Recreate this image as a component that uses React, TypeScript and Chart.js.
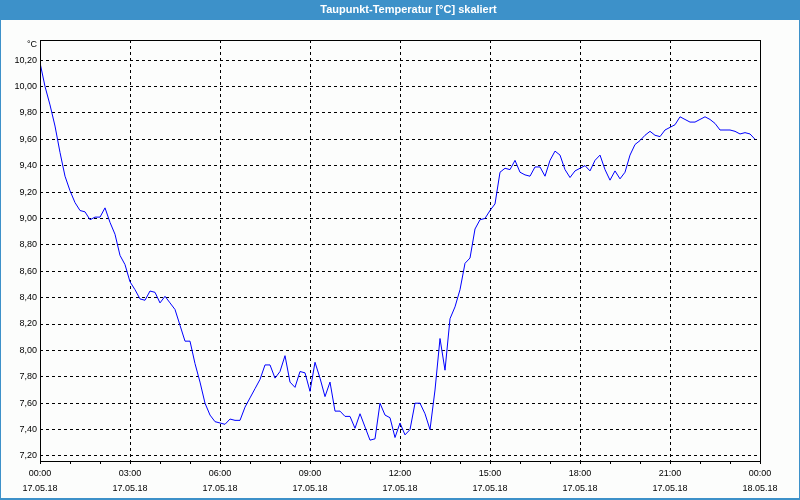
import React, { useEffect, useRef } from 'react';
import { Chart, registerables } from 'chart.js';

Chart.register(...registerables);

const TITLE = 'Taupunkt-Temperatur [°C] skaliert';
const UNIT = '°C';
const SAMPLE_STEP_MIN = 10;

// Dew point, one reading every 10 minutes from 17.05.18 00:00
const dewPoint = [
  10.18, 10.0, 9.86, 9.7, 9.5, 9.32, 9.21, 9.12, 9.06, 9.05,
  8.99, 9.01, 9.01, 9.08, 8.97, 8.88, 8.72, 8.65, 8.52, 8.46,
  8.39, 8.38, 8.45, 8.44, 8.36, 8.41, 8.36, 8.31, 8.19, 8.07,
  8.07, 7.9, 7.76, 7.6, 7.51, 7.46, 7.45, 7.44, 7.48, 7.47,
  7.47, 7.57, 7.64, 7.71, 7.78, 7.89, 7.89, 7.79, 7.84, 7.96,
  7.76, 7.72, 7.84, 7.83, 7.69, 7.91, 7.79, 7.65, 7.76, 7.54,
  7.54, 7.5, 7.5, 7.41, 7.52, 7.42, 7.32, 7.33, 7.6, 7.51,
  7.49, 7.34, 7.45, 7.36, 7.4, 7.6, 7.6, 7.52, 7.4, 7.7,
  8.09, 7.85, 8.24, 8.33, 8.46, 8.66, 8.7, 8.92, 8.99, 9.0,
  9.06, 9.11, 9.35, 9.38, 9.37, 9.44, 9.35, 9.33, 9.32, 9.39,
  9.39, 9.32, 9.44, 9.51, 9.48, 9.37, 9.31, 9.36, 9.38, 9.4,
  9.36, 9.44, 9.48, 9.37, 9.29, 9.36, 9.3, 9.35, 9.48, 9.56,
  9.59, 9.63, 9.66, 9.63, 9.62, 9.67, 9.69, 9.71, 9.77, 9.75,
  9.73, 9.73, 9.75, 9.77, 9.75, 9.72, 9.67, 9.67, 9.67, 9.66,
  9.64, 9.65, 9.64, 9.6,
];

const yTickValues = [7.2, 7.4, 7.6, 7.8, 8.0, 8.2, 8.4, 8.6, 8.8, 9.0, 9.2, 9.4, 9.6, 9.8, 10.0, 10.2];
const xMajorTimes = ['00:00', '03:00', '06:00', '09:00', '12:00', '15:00', '18:00', '21:00', '00:00'];
const xMajorDates = ['17.05.18', '17.05.18', '17.05.18', '17.05.18', '17.05.18', '17.05.18', '17.05.18', '17.05.18', '18.05.18'];

const X_MIN = 0;
const X_MAX = 1440;
const MAJOR_STEP = 180;
const MINOR_STEP = 60;
const Y_MIN = 7.162;
const Y_MAX = 10.352;

const BAND = '#3d91c9';
const FONT_FAMILY = '"Liberation Sans", Arial, sans-serif';
const FONT = { family: FONT_FAMILY, size: 9 };

const framePlugin = {
  id: 'frame',
  beforeDraw(chart: any) {
    const { ctx, width, height } = chart;
    ctx.save();
    ctx.fillStyle = '#fcfdfc';
    ctx.fillRect(0, 0, width, height);
    ctx.fillStyle = BAND;
    ctx.fillRect(0, 0, width, 20);
    ctx.fillRect(0, 0, 1, height);
    ctx.fillRect(width - 1, 0, 1, height);
    ctx.fillRect(0, height - 2, width, 2);
    ctx.fillStyle = '#ffffff';
    ctx.font = 'bold 11px ' + FONT_FAMILY;
    ctx.textAlign = 'center';
    ctx.textBaseline = 'middle';
    ctx.fillText(TITLE, 408.5, 10);
    ctx.restore();
  },
  afterDraw(chart: any) {
    const { ctx, chartArea: a } = chart;
    ctx.save();
    ctx.strokeStyle = '#000';
    ctx.lineWidth = 1;
    ctx.strokeRect(a.left + 0.5, a.top + 0.5, a.right - a.left, a.bottom - a.top);
    ctx.fillStyle = '#000';
    ctx.font = '9px ' + FONT_FAMILY;
    ctx.textAlign = 'right';
    ctx.textBaseline = 'middle';
    ctx.fillText(UNIT, a.left - 3, a.top + 5);
    ctx.restore();
  },
};

export default function App() {
  const canvasRef = useRef<HTMLCanvasElement | null>(null);

  useEffect(() => {
    if (!canvasRef.current) return;
    const minorTicks: number[] = [];
    for (let m = X_MIN; m <= X_MAX; m += MINOR_STEP) minorTicks.push(m);

    const chart = new Chart(canvasRef.current, {
      type: 'line',
      data: {
        datasets: [
          {
            label: TITLE,
            data: dewPoint.map((v, i) => ({ x: i * SAMPLE_STEP_MIN, y: v })),
            borderColor: '#0000ff',
            borderWidth: 1,
            pointRadius: 0,
            tension: 0,
            fill: false,
          },
        ],
      },
      options: {
        responsive: false,
        animation: false,
        events: [],
        layout: { padding: { left: 0, right: 40, top: 40, bottom: 0 } },
        plugins: {
          legend: { display: false },
          tooltip: { enabled: false },
          title: { display: false },
        },
        scales: {
          x: {
            type: 'linear',
            min: X_MIN,
            max: X_MAX,
            afterBuildTicks: (s: any) => {
              s.ticks = minorTicks.map((v) => ({ value: v }));
            },
            afterFit: (s: any) => {
              s.height = 39;
            },
            grid: {
              color: (c: any) => {
                const v = c.tick ? c.tick.value : -1;
                return v % MAJOR_STEP === 0 && v > X_MIN && v < X_MAX ? '#000' : 'rgba(0,0,0,0)';
              },
              tickColor: '#000',
              tickLength: 3,
              lineWidth: 1,
            },
            border: { display: false, dash: [3, 3] },
            ticks: {
              autoSkip: false,
              maxRotation: 0,
              minRotation: 0,
              padding: 2,
              color: '#000',
              font: { ...FONT, lineHeight: 15 / 9 },
              callback: (value: any) => {
                const v = Number(value);
                if (v % MAJOR_STEP !== 0) return '';
                const k = v / MAJOR_STEP;
                return [xMajorTimes[k], xMajorDates[k]];
              },
            },
          },
          y: {
            type: 'linear',
            min: Y_MIN,
            max: Y_MAX,
            afterBuildTicks: (s: any) => {
              s.ticks = yTickValues.map((v) => ({ value: v }));
            },
            afterFit: (s: any) => {
              s.width = 40;
            },
            grid: { color: '#000', drawTicks: false, lineWidth: 1 },
            border: { display: false, dash: [3, 3] },
            ticks: {
              padding: 3,
              color: '#000',
              font: FONT,
              callback: (value: any) => Number(value).toFixed(2).replace('.', ','),
            },
          },
        },
      },
      plugins: [framePlugin],
    } as any);

    return () => chart.destroy();
  }, []);

  return (
    <div style={{ position: 'absolute', left: 0, top: 0, width: 800, height: 500 }}>
      <canvas ref={canvasRef} width={800} height={500} />
    </div>
  );
}
